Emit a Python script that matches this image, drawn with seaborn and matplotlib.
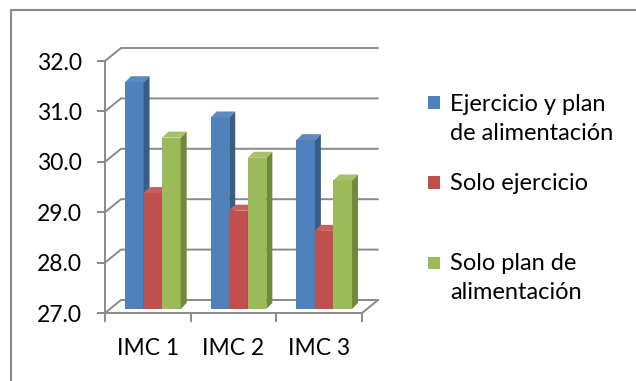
import matplotlib
matplotlib.use("Agg")
import numpy as np
import pandas as pd
import matplotlib.pyplot as plt
import seaborn as sns
from matplotlib.transforms import ScaledTranslation, IdentityTransform
from matplotlib.patches import Polygon, Rectangle
from matplotlib.lines import Line2D

# ---- data ----
categorias = ["IMC 1", "IMC 2", "IMC 3"]
grupos = ["Ejercicio y plan\nde alimentación", "Solo ejercicio", "Solo plan de\nalimentación"]
ejercicio_y_plan = [31.5, 30.8, 30.35]
solo_ejercicio = [29.3, 28.95, 28.55]
solo_plan = [30.4, 30.0, 29.55]
y_ticks = [27.0, 28.0, 29.0, 30.0, 31.0, 32.0]

# ---- style ----
frente = ["#4F81BD", "#C0504D", "#9BBB59"]
lateral = ["#385D8A", "#8C3A38", "#71893F"]
superior = ["#5C8BC4", "#C85F5C", "#A6C269"]
gris = "#8A8A8A"

DPI = 100
W, H = 636, 381
sns.set_theme(style="white")
plt.rcParams["font.family"] = ["Lato", "DejaVu Sans"]

fig = plt.figure(figsize=(W / DPI, H / DPI), dpi=DPI)
fig.patch.set_facecolor("white")
ax = fig.add_axes([105 / W, 1 - 313 / H, (362 - 105) / W, (313 - 61) / H])
ax.set_facecolor("none")

df = pd.DataFrame({
    "imc": categorias * 3,
    "valor": ejercicio_y_plan + solo_ejercicio + solo_plan,
    "grupo": [grupos[0]] * 3 + [grupos[1]] * 3 + [grupos[2]] * 3,
})
sns.barplot(data=df, x="imc", y="valor", hue="grupo", hue_order=grupos,
            order=categorias, palette=frente, saturation=1, width=0.65,
            errorbar=None, legend=False, ax=ax)

base = y_ticks[0]
ax.set_xlim(-0.5, len(categorias) - 0.5)
ax.set_ylim(y_ticks[0], y_ticks[-1])
ax.set_xlabel("")
ax.set_ylabel("")

# pixel offsets of the pseudo-3D scene (display units, y up)
pared = np.array([16.0, 13.0])   # back wall depth
barra = np.array([5.0, 4.0])     # bar front plane
prof = np.array([6.0, 6.0])      # bar depth

def disp(x, y):
    return ax.transData.transform((x, y))

x_ini, x_fin = ax.get_xlim()

# walls: left-wall diagonals and back-wall gridlines
for t in y_ticks:
    p0 = disp(x_ini, t)
    p1 = p0 + pared
    p2 = disp(x_fin, t) + pared
    ln = Line2D([p0[0], p1[0], p2[0]], [p0[1], p1[1], p2[1]],
                transform=IdentityTransform(), color=gris, lw=1.4,
                zorder=0.5, clip_on=False)
    ax.add_artist(ln)

# floor: right edge diagonal
q0 = disp(x_fin, base)
q1 = q0 + pared
ax.add_artist(Line2D([q0[0], q1[0]], [q0[1], q1[1]], transform=IdentityTransform(),
                     color=gris, lw=1.4, zorder=0.5, clip_on=False))

# bars with side and top faces
barras = []
for k, cont in enumerate(ax.containers):
    for bar in cont:
        barras.append((bar, k))
barras.sort(key=lambda b: b[0].get_x())

desplazar = ax.transData + ScaledTranslation(barra[0] / DPI, barra[1] / DPI, fig.dpi_scale_trans)
for i, (bar, k) in enumerate(barras):
    z = 3 + i * 0.1
    val = bar.get_height()
    bx, bw = bar.get_x(), bar.get_width()
    bar.set_y(base)
    bar.set_height(val - base)
    bar.set_transform(desplazar)
    bar.set_clip_on(False)
    bar.set_linewidth(0)
    bar.set_edgecolor("none")
    bar.set_zorder(z)
    x0, y0 = disp(bx, base) + barra
    x1, y1 = disp(bx + bw, val) + barra
    lado = Polygon([(x1, y0), (x1 + prof[0], y0 + prof[1]),
                    (x1 + prof[0], y1 + prof[1]), (x1, y1)], closed=True,
                   transform=IdentityTransform(), facecolor=lateral[k],
                   edgecolor="none", zorder=z + 0.05, clip_on=False)
    tapa = Polygon([(x0, y1), (x1, y1), (x1 + prof[0], y1 + prof[1]),
                    (x0 + prof[0], y1 + prof[1])], closed=True,
                   transform=IdentityTransform(), facecolor=superior[k],
                   edgecolor="none", zorder=z + 0.05, clip_on=False)
    ax.add_artist(lado)
    ax.add_artist(tapa)

# axes, ticks
for s in ["top", "right"]:
    ax.spines[s].set_visible(False)
for s in ["left", "bottom"]:
    ax.spines[s].set_color(gris)
    ax.spines[s].set_linewidth(1.4)
    ax.spines[s].set_zorder(1)

ax.set_yticks(y_ticks)
ax.set_yticklabels([f"{t:.1f}" for t in y_ticks])
ax.tick_params(axis="y", direction="out", length=5.8, width=1.4, color=gris,
               pad=11, labelsize=16.5, labelcolor="black", left=True)
ax.set_xticks(range(len(categorias)))
ax.set_xticklabels(categorias)
ax.set_xticks(np.arange(-0.5, len(categorias), 1.0), minor=True)
ax.tick_params(axis="x", which="major", length=0, pad=18, labelsize=16.5,
               labelcolor="black")
ax.tick_params(axis="x", which="minor", direction="out", length=6.5, width=1.4,
               color=gris, bottom=True)

# legend (baseline given for the last line of each entry)
marca_y = [102.5, 182.5, 262.5]
base_txt = [140, 190, 299]
for k, nombre in enumerate(grupos):
    fig.add_artist(Rectangle((428 / W, 1 - (marca_y[k] + 6) / H), 12 / W, 12 / H,
                             transform=fig.transFigure, facecolor=frente[k],
                             edgecolor="none"))
    fig.text(450 / W, 1 - base_txt[k] / H, nombre, ha="left", va="baseline",
             fontsize=17, linespacing=1.45, color="black")

# outer frame
fig.add_artist(Line2D([11 / W, 11 / W, 1.0], [0.0, 1 - 10 / H, 1 - 10 / H],
                      transform=fig.transFigure, color=gris, lw=1.5))

fig.savefig("out.png", dpi=DPI, facecolor="white")
